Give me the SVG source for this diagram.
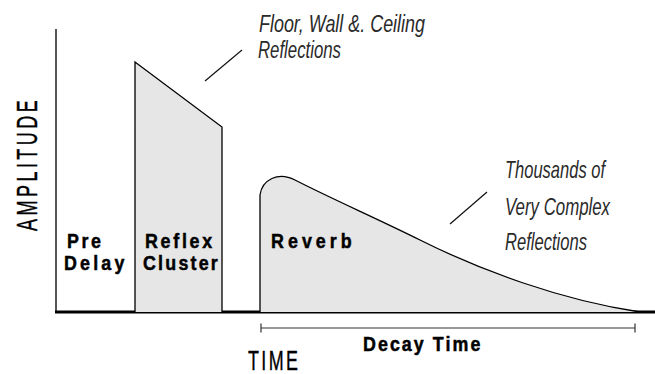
<svg xmlns="http://www.w3.org/2000/svg" width="655" height="374" viewBox="0 0 655 374">
<style>
.shape{fill:#e6e6e6;stroke:#000;stroke-width:1.3;stroke-linejoin:miter}
.lead{stroke:#111;stroke-width:1.2;fill:none}
.bold{font-family:"Liberation Sans",Arial,sans-serif;font-weight:bold;font-size:21px;fill:#000;stroke:#000;stroke-width:0.5}
.ital{font-family:"Liberation Sans",Arial,sans-serif;font-style:italic;font-size:24px;fill:#2a2a2a}
.axislbl{font-family:"Liberation Sans",Arial,sans-serif;font-size:30px;fill:#000;stroke:#000;stroke-width:0.4}
</style>
<rect width="655" height="374" fill="#fff"/>
<g id="axes">
<line x1="56" y1="29" x2="56" y2="312" stroke="#555" stroke-width="2"/>
<line x1="55" y1="312" x2="655" y2="312" stroke="#000" stroke-width="3"/>
<text class="axislbl" transform="translate(37,231) rotate(-90) scale(0.6,1)" textLength="218" lengthAdjust="spacing">AMPLITUDE</text>
<text class="axislbl" style="font-size:28px" transform="translate(248,370) scale(0.64,1)" textLength="78" lengthAdjust="spacing">TIME</text>
</g>
<g id="predelay">
<text class="bold" transform="translate(67,248) scale(0.85,1)" textLength="40" lengthAdjust="spacing">Pre</text>
<text class="bold" transform="translate(64,270) scale(0.85,1)" textLength="71" lengthAdjust="spacing">Delay</text>
</g>
<g id="reflex">
<path class="shape" d="M135,312 L135,62 L222,127 L222,312"/>
<text class="bold" transform="translate(145,248) scale(0.85,1)" textLength="79" lengthAdjust="spacing">Reflex</text>
<text class="bold" transform="translate(143,270) scale(0.85,1)" textLength="88" lengthAdjust="spacing">Cluster</text>
</g>
<g id="reverb">
<path class="shape" d="M260,312 L260,195 C262,180 278,171 295,180 C330,198 380,220 420,240 C480,270 560,300 640,312"/>
<text class="bold" transform="translate(271,248) scale(0.85,1)" textLength="95" lengthAdjust="spacing">Reverb</text>
</g>
<g id="decay">
<line x1="261" y1="328" x2="635" y2="328" stroke="#333" stroke-width="1.2"/>
<line x1="261" y1="323.5" x2="261" y2="332.5" stroke="#333" stroke-width="1.2"/>
<line x1="635" y1="323.5" x2="635" y2="332.5" stroke="#333" stroke-width="1.2"/>
<text class="bold" transform="translate(363,351) scale(0.85,1)" textLength="138" lengthAdjust="spacing">Decay Time</text>
</g>
<g id="label-early">
<text class="ital" x="259" y="32" textLength="166" lengthAdjust="spacingAndGlyphs">Floor, Wall &amp;. Ceiling</text>
<text class="ital" x="258" y="58" textLength="83" lengthAdjust="spacingAndGlyphs">Reflections</text>
</g>
<g id="label-late">
<text class="ital" x="505" y="178" textLength="100" lengthAdjust="spacingAndGlyphs">Thousands of</text>
<text class="ital" x="505" y="215" textLength="105" lengthAdjust="spacingAndGlyphs">Very Complex</text>
<text class="ital" x="505" y="250" textLength="82" lengthAdjust="spacingAndGlyphs">Reflections</text>
</g>
<g id="connectors">
<line class="lead" x1="205" y1="81" x2="242" y2="50"/>
<line class="lead" x1="450" y1="224" x2="487" y2="192"/>
</g>
</svg>
